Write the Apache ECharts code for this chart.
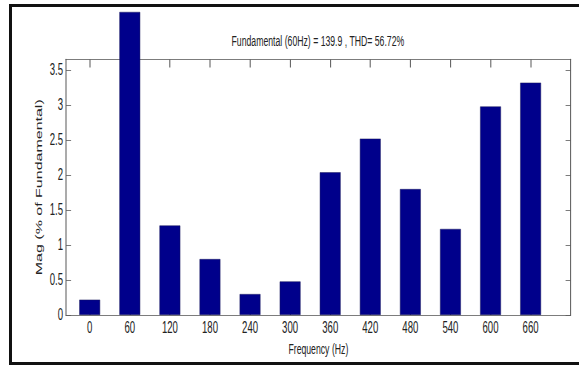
<!DOCTYPE html>
<html>
<head>
<meta charset="utf-8">
<script src="https://cdn.jsdelivr.net/npm/echarts@6/dist/echarts.min.js"></script>
<style>
  html, body { margin: 0; padding: 0; background: #fff; overflow: hidden; width: 579px; height: 366px; }
  /* The chart is laid out wider and squeezed horizontally, which gives the narrow, tall lettering. */
  #chart { width: 965px; height: 366px; transform: scaleX(0.6); transform-origin: 0 0; }
</style>
</head>
<body>
<div id="chart"></div>
<script>
// Harmonic spectrum of a 60 Hz signal
const frequencies = [0, 60, 120, 180, 240, 300, 360, 420, 480, 540, 600, 660];
const magnitudes = [0.22, 4.33, 1.28, 0.80, 0.30, 0.48, 2.04, 2.52, 1.80, 1.23, 2.98, 3.32];
const yTicks = [0, 0.5, 1, 1.5, 2, 2.5, 3, 3.5];
const titleText = 'Fundamental (60Hz) = 139.9 , THD= 56.72%';
const xName = 'Frequency (Hz)';
const yName = 'Mag (% of Fundamental)';

const SX = 0.6;                 // horizontal squeeze applied by CSS
const W = 579 / SX;             // internal layout width
const FONT = 'Liberation Sans, Arial, Helvetica, sans-serif';
const AXIS_COLOR = '#5a5a5a';
const TEXT_COLOR = '#222';
const X_MIN = -35.5, X_MAX = 720;
const Y_MIN = 0, Y_MAX = 3.65;

const chart = echarts.init(document.getElementById('chart'), null, { renderer: 'svg' });

function xAxisDef(position, showLabels) {
  return {
    type: 'value', position: position, min: X_MIN, max: X_MAX,
    axisLine: { show: true, onZero: false, lineStyle: { color: AXIS_COLOR, width: 1 } },
    axisTick: { show: true, inside: true, length: 8, customValues: frequencies,
                lineStyle: { color: AXIS_COLOR, width: 1.7 } },
    axisLabel: { show: showLabels, customValues: frequencies, margin: 5,
                 fontFamily: FONT, fontSize: 16, color: TEXT_COLOR },
    splitLine: { show: false },
    name: showLabels ? xName : '', nameLocation: 'middle', nameGap: 27,
    nameTextStyle: { fontFamily: FONT, fontSize: 14.5, color: TEXT_COLOR }
  };
}

function yAxisDef(position, showLabels) {
  return {
    type: 'value', position: position, min: Y_MIN, max: Y_MAX,
    axisLine: { show: true, onZero: false, lineStyle: { color: AXIS_COLOR, width: 1.7 } },
    axisTick: { show: true, inside: true, length: 8.5, customValues: yTicks,
                lineStyle: { color: AXIS_COLOR, width: 1 } },
    axisLabel: { show: showLabels, customValues: yTicks, margin: 5,
                 fontFamily: FONT, fontSize: 16, color: TEXT_COLOR },
    splitLine: { show: false },
    name: showLabels ? yName : '', nameLocation: 'middle', nameGap: 34,
    nameTextStyle: { fontFamily: FONT, fontSize: 16, color: TEXT_COLOR }
  };
}

const option = {
  animation: false,
  backgroundColor: '#fff',
  grid: { left: 110, right: W - 570.7 / SX, top: 59.5, bottom: 51, containLabel: false },
  xAxis: [xAxisDef('bottom', true), xAxisDef('top', false)],
  yAxis: [yAxisDef('left', true), yAxisDef('right', false)],
  series: [{
    type: 'bar',
    xAxisIndex: 0, yAxisIndex: 0,
    data: frequencies.map((f, i) => [f, magnitudes[i]]),
    barWidth: 34.5,
    clip: false,
    itemStyle: { color: '#00008b', borderColor: '#1a1a5a', borderWidth: 0.6 }
  }],
  graphic: [
    // figure frame
    { type: 'line', shape: { x1: 17.5, y1: 4, x2: 17.5, y2: 365 },
      style: { stroke: '#111', lineWidth: 5 } },
    { type: 'line', shape: { x1: 15, y1: 5.5, x2: W, y2: 5.5 },
      style: { stroke: '#111', lineWidth: 3 } },
    { type: 'line', shape: { x1: 15, y1: 363.5, x2: W, y2: 363.5 },
      style: { stroke: '#111', lineWidth: 3 } },
    // plot title
    { type: 'text', x: 317.9 / SX, y: 41.5,
      style: { text: titleText, fontFamily: FONT, fontSize: 14.5, fill: TEXT_COLOR,
               textAlign: 'center', textVerticalAlign: 'middle' } }
  ]
};

chart.setOption(option);
</script>
</body>
</html>
